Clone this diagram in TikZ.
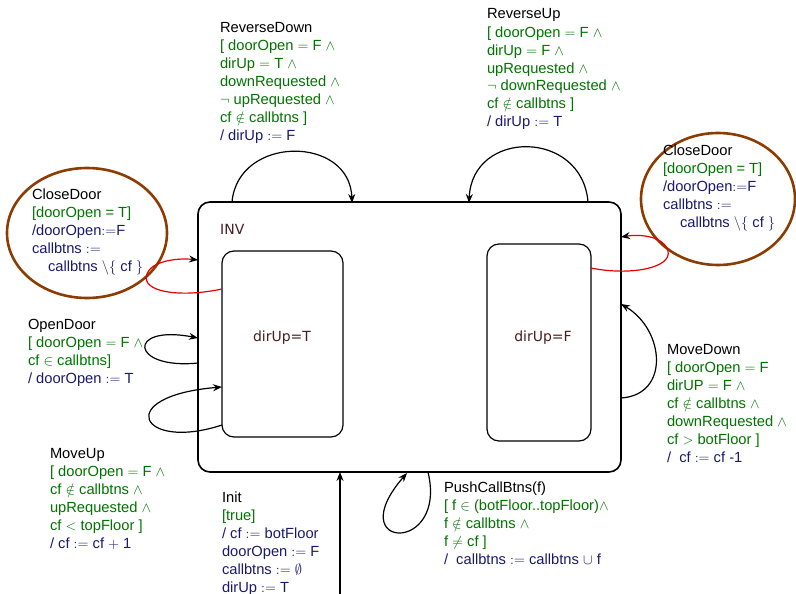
\documentclass[tikz,border=0pt]{standalone}
\usepackage{fontspec}
\setmainfont{Liberation Sans}
\newfontfamily\djv{DejaVu Sans}
\usetikzlibrary{arrows.meta,calc,shapes.geometric}
\definecolor{grd}{RGB}{0,115,0}
\definecolor{act}{RGB}{25,25,110}
\definecolor{stt}{RGB}{70,30,30}
\definecolor{elb}{RGB}{140,60,0}
\definecolor{rloop}{RGB}{230,0,0}
\newcommand{\G}[1]{{\color{grd}#1}}
\newcommand{\A}[1]{{\color{act}#1}}
\begin{document}
\begin{tikzpicture}[x=1pt,y=-1pt,
  lab/.style={anchor=north west, inner sep=0pt, outer sep=0pt, align=left, font=\fontsize{14.7}{18}\selectfont},
  stname/.style={inner sep=0pt, text=stt, font=\djv\fontsize{14}{17}\selectfont},
  outerbox/.style={draw, line width=1.6pt, rounded corners=12pt, inner sep=0pt, outer sep=0pt, anchor=north west},
  innerbox/.style={draw, line width=1.2pt, rounded corners=12pt, inner sep=0pt, outer sep=0pt, anchor=north west},
  note/.style={draw=elb, line width=2.6pt, ellipse, inner sep=0pt, outer sep=0pt},
  conn/.style={line width=1.2pt, -{Stealth[length=9pt,width=7pt,inset=3pt]}},
  redconn/.style={line width=1.2pt, rloop, -{Stealth[length=9pt,width=7pt,inset=3pt,color=black]}}
]
\useasboundingbox (0,0) rectangle (796,594);

% states
\node[outerbox, minimum width=423pt, minimum height=270pt] (inv) at (198,202) {};
\node[innerbox, minimum width=121pt, minimum height=186pt] (up) at (222,251) {};
\node[innerbox, minimum width=104pt, minimum height=197pt] (down) at (487,244) {};
\node[stname, anchor=base west] (invlab) at (220,234) {INV};
\node[stname] (uplab) at (282,338) {dirUp=T};
\node[stname] (downlab) at (543,338) {dirUp=F};

% annotation ellipses
\node[note, minimum width=160pt, minimum height=130pt] (cdL) at (87,233) {};
\node[note, minimum width=154pt, minimum height=132pt] (cdR) at (718,199) {};

% connectors
\draw[conn] ($(inv.north west)+(34,0)$) .. controls ($(inv.north west)+(40,-67)$) and ($(inv.north west)+(152,-67)$) .. ($(inv.north west)+(154,1)$);
\draw[conn] ($(inv.north west)+(390,0)$) .. controls ($(inv.north west)+(384,-73)$) and ($(inv.north west)+(274,-73)$) .. ($(inv.north west)+(271,1)$);
\draw[redconn] ($(up.north west)+(0,38)$) .. controls (180,298) and (140,292) .. (147,274) .. controls (152,260) and (180,258) .. ($(inv.north west)+(0,58)$);
\draw[redconn] ($(down.north east)+(0,24)$) .. controls (630,276) and (672,268) .. (668,251) .. controls (664,236) and (640,234) .. ($(inv.north east)+(0,35)$);
\draw[conn] ($(inv.north west)+(0,161)$) .. controls (130,370) and (126,324) .. ($(inv.north west)+(0,136)$);
\draw[conn] ($(up.north west)+(0,174)$) .. controls (140,452) and (112,396) .. ($(up.north west)+(0,136)$);
\draw[conn] ($(inv.north east)+(0,196)$) .. controls (670,395) and (665,330) .. ($(inv.north east)+(0,102)$);
\coordinate (initsrc) at (340,594);
\draw[conn] (initsrc) -- ($(inv.south west)+(142,0)$);
\draw[conn] ($(inv.south west)+(230,0)$) .. controls (448,555) and (340,550) .. ($(inv.south west)+(209,1)$);

% labels
\node[lab] (lrd) at (220,19.4) {\strut ReverseDown\\
\G{[ doorOpen $=$ F $\wedge$}\\
\G{dirUp $=$ T $\wedge$}\\
\G{downRequested $\wedge$}\\
\G{$\neg$ upRequested $\wedge$}\\
\G{cf $\notin$ callbtns ]}\\
\A{/ dirUp $:=$ F}};

\node[lab] (lru) at (487,6.4) {\strut ReverseUp\\
\G{[ doorOpen $=$ F $\wedge$}\\
\G{dirUp $=$ F $\wedge$}\\
\G{upRequested $\wedge$}\\
\G{$\neg$ downRequested $\wedge$}\\
\G{cf $\notin$ callbtns ]}\\
\A{/ dirUp $:=$ T}};

\node[lab] (lcdl) at (32,186.4) {\strut CloseDoor\\
\G{[doorOpen = T]}\\
\A{/doorOpen${:=}$F}\\
\A{callbtns $:=$}\\
\A{\hspace*{16pt}callbtns $\setminus\{$ cf $\}$}};

\node[lab] (lcdr) at (663,142.4) {\strut CloseDoor\\
\G{[doorOpen = T]}\\
\A{/doorOpen${:=}$F}\\
\A{callbtns $:=$}\\
\A{\hspace*{17pt}callbtns $\setminus\{$ cf $\}$}};

\node[lab] (lod) at (28,316.4) {\strut OpenDoor\\
\G{[ doorOpen $=$ F $\wedge$}\\
\G{cf $\in$ callbtns]}\\
\A{/ doorOpen $:=$ T}};

\node[lab] (lmu) at (50,445.4) {\strut MoveUp\\
\G{[ doorOpen $=$ F $\wedge$}\\
\G{cf $\notin$ callbtns $\wedge$}\\
\G{upRequested $\wedge$}\\
\G{cf $<$ topFloor ]}\\
\A{/ cf $:=$ cf $+$ 1}};

\node[lab] (lmd) at (667,341.4) {\strut MoveDown\\
\G{[ doorOpen $=$ F}\\
\G{dirUP $=$ F $\wedge$}\\
\G{cf $\notin$ callbtns $\wedge$}\\
\G{downRequested $\wedge$}\\
\G{cf $>$ botFloor ]}\\
\A{/\ \ cf $:=$ cf -1}};

\node[lab] (lin) at (222,489.4) {\strut Init\\
\G{[true]}\\
\A{/ cf $:=$ botFloor}\\
\A{doorOpen $:=$ F}\\
\A{callbtns $:=$ $\emptyset$}\\
\A{dirUp $:=$ T}};

\node[lab] (lpc) at (444,479.4) {\strut PushCallBtns(f)\\
\G{[ f $\in$ (botFloor..topFloor)$\wedge$}\\
\G{f $\notin$ callbtns $\wedge$}\\
\G{f $\neq$ cf ]}\\
\A{/\ \ callbtns $:=$ callbtns $\cup$ f}};
\end{tikzpicture}
\end{document}
